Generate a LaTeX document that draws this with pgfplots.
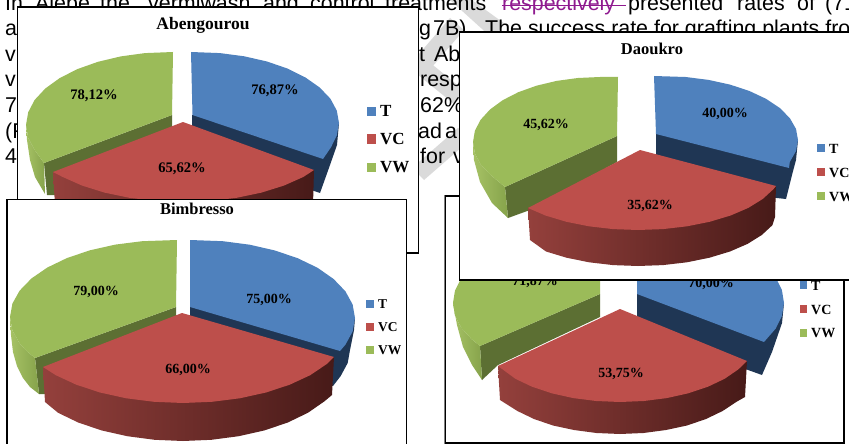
\documentclass[border=0pt]{standalone}
\usepackage{fontspec}
\setmainfont{Liberation Sans}
\newfontfamily\tnr{Liberation Serif}
\usepackage{pgfplots}
\pgfplotsset{compat=1.18}
\definecolor{tTop}{HTML}{4F81BD}
\definecolor{tWall}{HTML}{1F3654}
\definecolor{vcTop}{HTML}{BD4F4B}
\definecolor{vcWallL}{HTML}{94403C}
\definecolor{vcWallR}{HTML}{471A18}
\definecolor{vwTop}{HTML}{9BBB59}
\definecolor{vwCut}{HTML}{5C6F33}
\definecolor{vwWallL}{HTML}{A6C265}
\definecolor{vwWallR}{HTML}{86A34B}
\definecolor{mark}{HTML}{8F1A8F}
\definecolor{band}{HTML}{DADADA}
\pgfplotsset{
  tface/.style={fill=tTop,draw=none},
  twall/.style={fill=tWall,draw=none},
  vface/.style={fill=vcTop,draw=none},
  vwall/.style={draw=none,shade,left color=vcWallL,right color=vcWallR},
  gface/.style={fill=vwTop,draw=none},
  gcut/.style={fill=vwCut,draw=none},
  gwall/.style={draw=none,shade,left color=vwWallL,right color=vwWallR},
  frame/.style={fill=white,draw=black,line width=1.7pt},
}
\newcommand\body[3]{\node[anchor=base west,inner sep=0pt,font=\fontsize{21.4}{25}\selectfont,text=#3] at (axis cs:#1) {#2};}
\newcommand\word[2]{\body{#1}{#2}{black}}
\newcommand\heading[3]{\node[font=\tnr\bfseries\fontsize{#3}{#3}\selectfont] at (axis cs:#1) {#2};}
\newcommand\val[2]{\node[font=\tnr\bfseries\fontsize{14}{14}\selectfont] at (axis cs:#1) {#2};}
\newcommand\valA[2]{\node[font=\tnr\bfseries\fontsize{14.6}{14.6}\selectfont] at (axis cs:#1) {#2};}
\newcommand\keytxt[3]{\node[anchor=west,inner sep=0pt,font=\tnr\bfseries\fontsize{#3}{#3}\selectfont] at (axis cs:#1) {#2};}
\begin{document}
\begin{tikzpicture}
\path[use as bounding box,clip] (0,0) rectangle (849pt,444pt);
\begin{axis}[at={(0,0)},anchor=south west,scale only axis,width=849pt,height=444pt,
  xmin=0,xmax=849,ymin=0,ymax=444,y dir=reverse,hide axis]

% running text and hatched marks behind the figures
\addplot[fill=band,draw=none] coordinates {(412,62)(450,18)(464,30)(426,74)};
\addplot[fill=band,draw=none] coordinates {(450,0)(472,0)(505,24)(492,38)};
\addplot[fill=band,draw=none] coordinates {(412,48)(466,92)(454,104)(412,70)};
\addplot[fill=band,draw=none] coordinates {(412,168)(458,128)(470,140)(424,180)};
\word{5,11}{In}\word{35,11}{Alepe,}\word{100,11}{the}\word{148,11}{vermiwash}
\word{263,11}{and}\word{310,11}{control}\word{385,11}{treatments}
\body{502,11}{respectively}{mark}
\addplot[draw=mark,line width=0.9pt] coordinates {(502,5)(626,5)};
\word{628,11}{presented}\word{737,11}{rates}\word{797,11}{of}\word{825,11}{(71}
\word{5,36}{a}\word{419,36}{g}\word{433,36}{7B).}\word{485,36}{The success rate for grafting plants from}
\word{5,62}{v}\word{419,62}{t}\word{434,62}{Ab}
\word{5,87}{v}\word{420,87}{resp}
\word{5,112}{7}\word{420,112}{62\%}
\word{5,138}{(F}\word{418,138}{ad}\word{445,138}{a}
\word{5,163}{4}\word{420,163}{for}\word{453,163}{v}

% Abengourou
\addplot[frame] coordinates {(17.5,7)(418.5,7)(418.5,253)(17.5,253)} --cycle;
\addplot[twall] coordinates {(192,115)(339,123)(337,145)(330,165)(320,193)(192,150)};
\addplot[gcut] coordinates {(172,115)(44,163)(47,195)(60,195)(172,160)};
\addplot[gwall] coordinates {(26,125)(27,140)(30,160)(35,177)(45,194)(44,163)(34.6,150)(28.2,137.7)};
\addplot[tface] coordinates {(191,52)(220,53.1)(244.2,56.3)(267,61.5)(287.6,68.6)(305.3,77.4)(319.7,87.5)(330.4,98.7)(336.8,110.6)(339,123)(336.8,135.4)(331,147.3)(323,159)(192.5,115)};
\addplot[gface] coordinates {(173,52)(145,53.1)(120.8,56.4)(98,61.8)(77.4,69.1)(59.7,78.1)(45.3,88.5)(34.6,100)(28.2,112.3)(26,125)(28.2,137.7)(34.6,150)(44,163)(172,115)};
\addplot[vwall] coordinates {(314,170)(313,205)(183,240)(55,205)(53,172)};
\addplot[vface] coordinates {(183,122)(314,170)(303.3,177)(283.9,185.6)(261.5,192.6)(236.7,197.8)(210.3,200.9)(183,202)(155.7,200.9)(129.3,197.8)(104.5,192.6)(82.1,185.6)(62.7,177)(53,172)};
\heading{203,25}{Abengourou}{17.5}
\valA{275,91}{76,87\%}\valA{94,96}{78,12\%}\valA{182,169}{65,62\%}
\addplot[tface] coordinates {(367,107)(376,107)(376,116)(367,116)};
\addplot[vface] coordinates {(367,134)(376,134)(376,144)(367,144)};
\addplot[gface] coordinates {(367,163)(376,163)(376,172)(367,172)};
\keytxt{380,111}{T}{17}\keytxt{380,139}{VC}{17}\keytxt{380,167}{VW}{17}

% fourth site, its heading hidden by the Daoukro figure
\addplot[fill=white,draw=gray,line width=2.4pt] coordinates {(445,196)(844,196)(844,443)(445,443)} --cycle;
\addplot[draw=black,line width=1.1pt] coordinates {(445.5,196)(844,196)(844,443)(445.5,443)} --cycle;
\addplot[twall] coordinates {(637,294)(784,303)(782,323)(772,352)(762,375)(637,330)};
\addplot[gcut] coordinates {(600,294)(480,346)(482,380)(498,365)(600,317)};
\addplot[gwall] coordinates {(453,303)(457,325)(463,347)(472,365)(482,380)(480,346)(471.4,339)(461.2,327.6)(455,315.5)};
\addplot[tface] coordinates {(637,228)(692.5,232.5)(734.4,245.5)(765.4,265.5)(775.7,277.4)(781.9,290)(784,303)(781.9,316)(775.7,328.6)(764,342)(637,294)};
\addplot[gface] coordinates {(601,231)(543.1,235.3)(501.9,248.2)(471.4,267)(461.2,278.4)(455,290.5)(453,303)(455,315.5)(461.2,327.6)(471.4,339)(480,346)(600,294)};
\addplot[vwall] coordinates {(747,361)(745,397)(737,401.5)(722.6,411)(706,419)(687,425.5)(666,430)(643.5,433)(620,434)(596.5,433)(574,430)(553,425.5)(534,419)(517.4,411)(500,400)(498,366)};
\addplot[vface] coordinates {(620,309)(747,361)(738.2,369.5)(724.6,378.8)(707.8,386.8)(688.3,393.3)(666.7,398.1)(643.8,401)(620,402)(596.2,401)(573.3,398.1)(551.7,393.3)(532.2,386.8)(515.4,378.8)(498,366)};
\val{711,284}{70,00\%}\val{535,282}{71,87\%}\val{621,374}{53,75\%}
\addplot[tface] coordinates {(800,281)(807,281)(807,289)(800,289)};
\addplot[vface] coordinates {(800,305)(807,305)(807,313)(800,313)};
\addplot[gface] coordinates {(800,329)(807,329)(807,337)(800,337)};
\keytxt{811,286}{T}{14}\keytxt{811,310}{VC}{14}\keytxt{811,333}{VW}{14}

% Daoukro
\addplot[frame] coordinates {(459.5,32)(860,32)(860,280)(459.5,280)} --cycle;
\addplot[twall] coordinates {(656,134)(798,140)(796,160)(792,175)(786,199)(656,185)};
\addplot[gcut] coordinates {(617,136)(505,187)(508,218)(530,210)(617,162)};
\addplot[gwall] coordinates {(473,142)(474,160)(480,182)(492,203)(508,218)(505,187)(490,174.5)(480.6,164.2)(474.9,153.3)};
\addplot[tface] coordinates {(654,76)(685.6,77)(708.5,79.9)(730,84.6)(749.4,91)(766.2,98.9)(779.8,108)(789.8,118.1)(796,128.9)(798,140)(796,151.1)(789.8,161.9)(789,168)(656,134)};
\addplot[gface] coordinates {(618,77)(600,77)(577.9,78)(556.6,80.9)(536.5,85.7)(518.3,92.2)(502.7,100.2)(490,109.5)(480.6,119.8)(474.9,130.7)(473,142)(474.9,153.3)(480.6,164.2)(490,174.5)(505,187)(617,136)};
\addplot[vwall] coordinates {(776,186)(775,217)(772.4,225.2)(761.8,235)(747.5,243.9)(730,251.5)(709.5,257.7)(686.9,262.3)(662.9,265.1)(638,266)(613.1,265.1)(589.1,262.3)(566.5,257.7)(546,251.5)(530,240)(528,208)};
\addplot[vface] coordinates {(640,150)(776,186)(773.4,189.2)(762.7,199)(748.3,207.9)(730.6,215.5)(710,221.7)(687.2,226.3)(663,229.1)(638,230)(613,229.1)(588.8,226.3)(566,221.7)(545.4,215.5)(528,208)};
\heading{652,49}{Daoukro}{16.5}
\val{725,114}{40,00\%}\val{546,125}{45,62\%}\val{650,206}{35,62\%}
\addplot[tface] coordinates {(817,144)(825,144)(825,152)(817,152)};
\addplot[vface] coordinates {(817,168)(825,168)(825,176)(817,176)};
\addplot[gface] coordinates {(817,192)(825,192)(825,200)(817,200)};
\keytxt{829,149}{T}{14}\keytxt{829,173}{VC}{14}\keytxt{829,197}{VW}{14}

% Bimbresso
\addplot[frame] coordinates {(7,199.5)(406.5,199.5)(406.5,460)(7,460)} --cycle;
\addplot[twall] coordinates {(190,307)(355,318)(354,330)(350,350)(347.7,363)(340.7,376)(333,386)(190,345)};
\addplot[gcut] coordinates {(176,307)(35,358)(39,394)(50,394)(176,345)};
\addplot[gwall] coordinates {(10,317)(11,335)(13,352)(17,366)(23,378)(30,387)(39,394)(35,358)(26.2,350.7)(19.6,343.3)(12.4,330.4)};
\addplot[tface] coordinates {(190,240)(222.8,241.2)(249.7,244.7)(275,250.5)(297.9,258.3)(317.6,267.8)(333.6,279)(345.4,291.3)(352.6,304.4)(355,318)(352.6,331.6)(345.4,344.7)(340,351)(190,307)};
\addplot[gface] coordinates {(177,240)(142.2,241.2)(115.3,244.6)(90,250.3)(67.1,258)(47.4,267.5)(31.4,278.5)(19.6,290.7)(12.4,303.6)(10,317)(12.4,330.4)(19.6,343.3)(26.2,350.7)(35,358)(176,307)};
\addplot[vwall] coordinates {(334,357)(332,395)(324.2,401.5)(307.9,412.8)(287.8,422.5)(264.5,430.4)(238.7,436.2)(211.4,439.8)(183,441)(154.6,439.8)(127.3,436.2)(101.5,430.4)(78.2,422.5)(58.1,412.8)(45,402)(43,367)};
\addplot[vface] coordinates {(182,313)(334,357)(326.8,364)(310.2,375.2)(289.7,384.7)(266,392.5)(239.8,398.3)(211.9,401.8)(183,403)(154.1,401.8)(126.2,398.3)(100,392.5)(76.3,384.7)(55.8,375.2)(43,367)};
\heading{197,209}{Bimbresso}{16.5}
\val{269,300}{75,00\%}\val{96,292}{79,00\%}\val{188,370}{66,00\%}
\addplot[tface] coordinates {(366,300)(374,300)(374,308)(366,308)};
\addplot[vface] coordinates {(366,323)(374,323)(374,331)(366,331)};
\addplot[gface] coordinates {(366,346)(374,346)(374,354)(366,354)};
\keytxt{378,304}{T}{13.5}\keytxt{378,327}{VC}{13.5}\keytxt{378,350}{VW}{13.5}
\end{axis}
\end{tikzpicture}
\end{document}
